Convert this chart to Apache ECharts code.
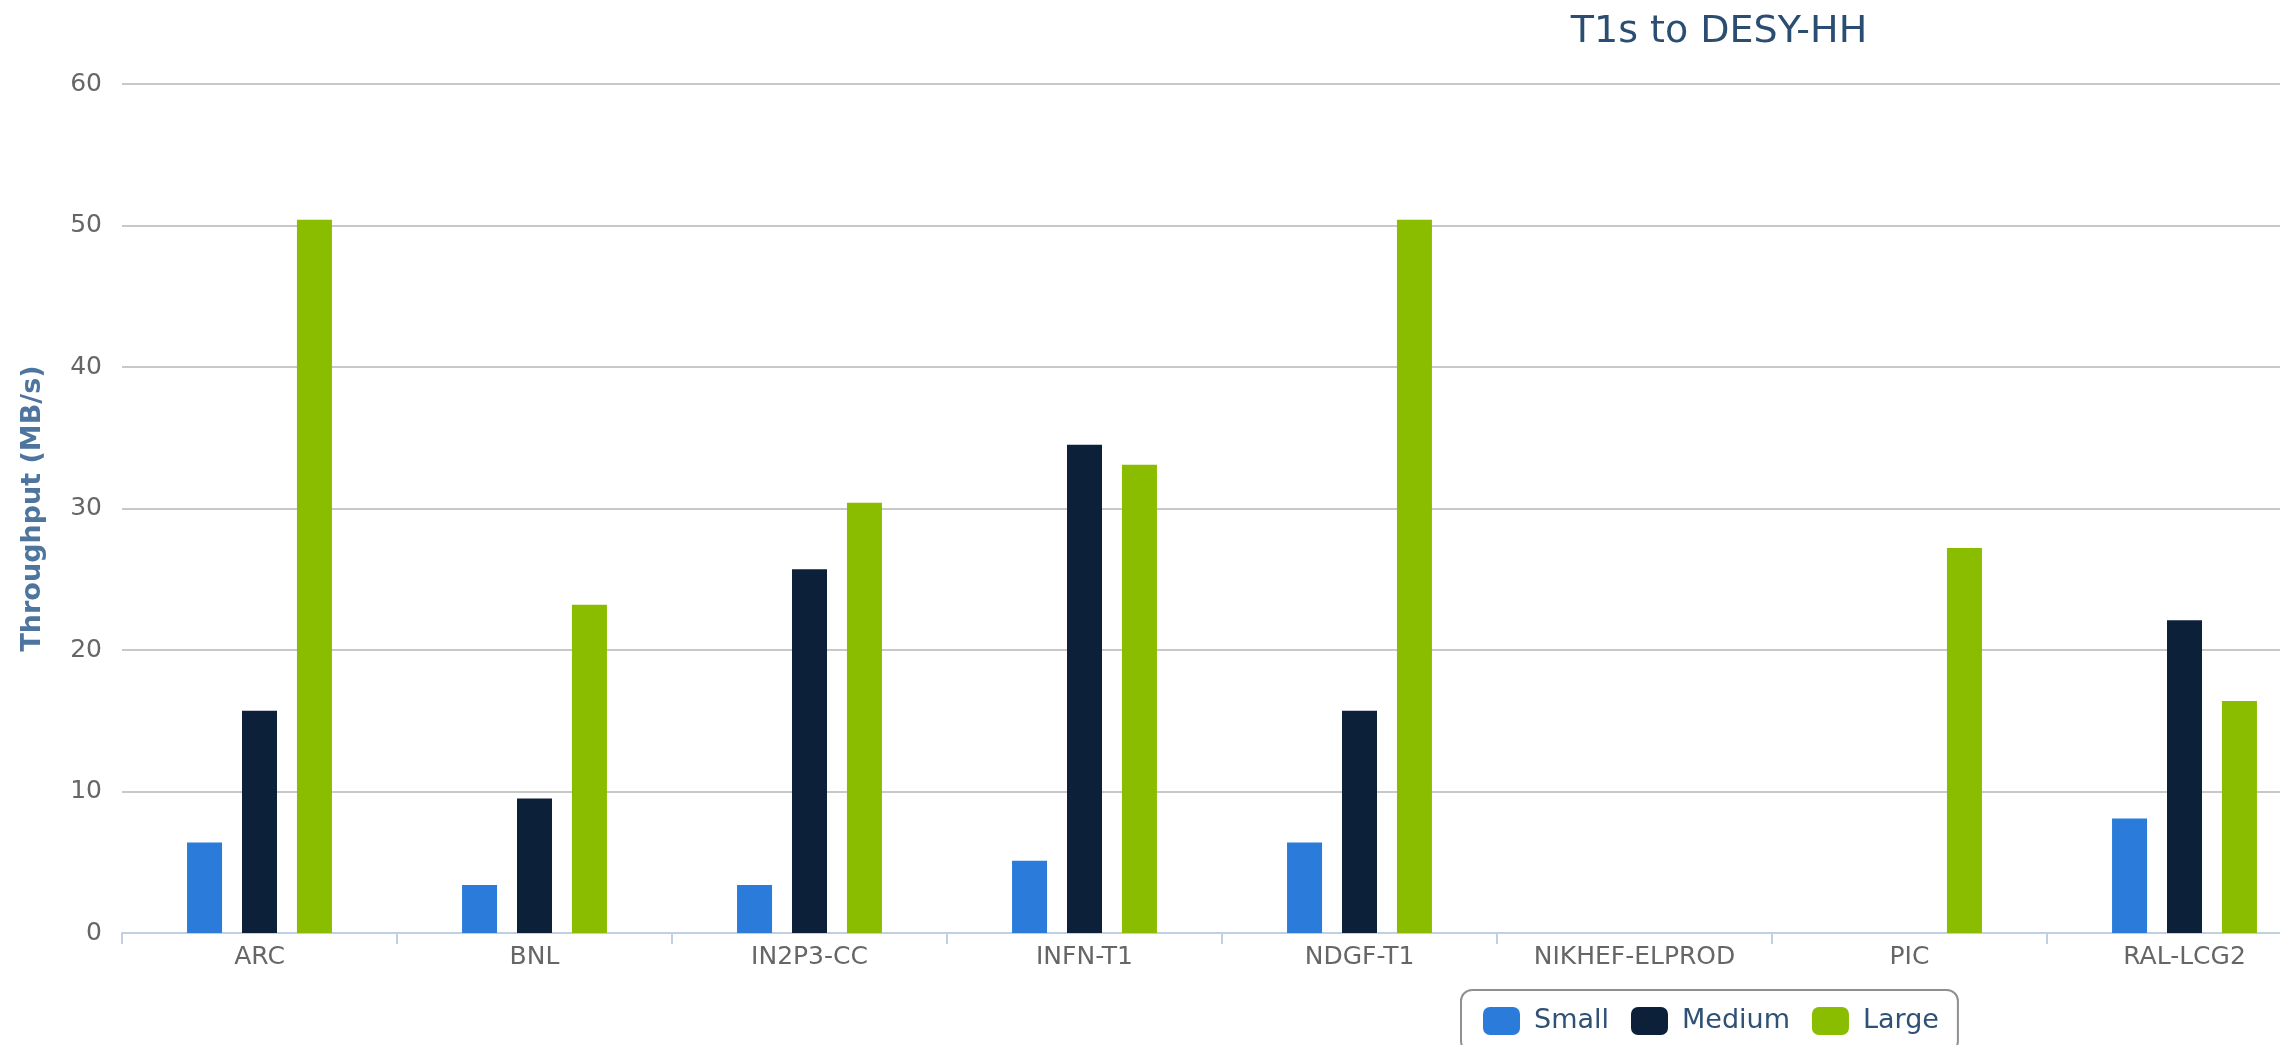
<!DOCTYPE html>
<html>
<head>
<meta charset="utf-8">
<title>T1s to DESY-HH</title>
<script src="https://cdn.jsdelivr.net/npm/echarts@6/dist/echarts.min.js"></script>
<style>
  html, body { margin: 0; padding: 0; background: #ffffff; }
  #chart { width: 2280px; height: 1045px; }
</style>
</head>
<body>
<div id="chart"></div>
<script>
// 数据 (MB/s)
var categories = ['ARC', 'BNL', 'IN2P3-CC', 'INFN-T1', 'NDGF-T1', 'NIKHEF-ELPROD', 'PIC', 'RAL-LCG2']
var smallValues = [6.4, 3.4, 3.4, 5.1, 6.4, null, null, 8.1]
var mediumValues = [15.7, 9.5, 25.7, 34.5, 15.7, null, null, 22.1]
var largeValues = [50.4, 23.2, 30.4, 33.1, 50.4, null, 27.2, 16.4]
var seriesNames = ['Small', 'Medium', 'Large']
var yTicks = [0, 10, 20, 30, 40, 50, 60]

var font = 'DejaVu Sans'
var myChart = echarts.init(document.getElementById('chart'))

var option = {
  backgroundColor: '#ffffff',
  animation: false,
  color: ['#2a7bda', '#0c2039', '#8abd00'],
  title: {
    text: 'T1s to DESY-HH',
    left: 1714,
    textAlign: 'center',
    top: 8,
    textStyle: { fontFamily: font, fontSize: 38, fontWeight: 'normal', color: '#2a4d71' }
  },
  legend: {
    data: seriesNames,
    left: 1461,
    top: 990,
    padding: [17, 19, 17, 22],
    itemWidth: 37,
    itemHeight: 28,
    itemGap: 22,
    icon: 'roundRect',
    borderColor: '#909090',
    borderWidth: 2,
    borderRadius: 11,
    backgroundColor: '#ffffff',
    textStyle: { fontFamily: font, fontSize: 27, color: '#2e5175', padding: [0, 0, 0, 9] }
  },
  grid: {
    left: 122,
    width: 2200, // 图表被裁切，右侧超出画面
    top: 84,
    height: 849,
    outerBoundsMode: 'none',
    containLabel: false
  },
  xAxis: {
    type: 'category',
    data: categories,
    axisLine: { lineStyle: { color: '#c0d0e0', width: 2 } },
    axisTick: { show: true, length: 11, lineStyle: { color: '#c0d0e0', width: 2 } },
    axisLabel: { fontFamily: font, fontSize: 25, color: '#666666', margin: 12, interval: 0 }
  },
  yAxis: {
    type: 'value',
    min: yTicks[0],
    max: yTicks[yTicks.length - 1],
    interval: 10,
    name: 'Throughput (MB/s)',
    nameLocation: 'middle',
    nameGap: 76,
    nameTextStyle: { fontFamily: font, fontSize: 27, fontWeight: 'bold', color: '#4d759e' },
    axisLine: { show: false },
    axisTick: { show: false },
    axisLabel: { fontFamily: font, fontSize: 25, color: '#666666', margin: 20 },
    splitLine: { lineStyle: { color: '#c8c8c8', width: 2 } }
  },
  series: [
    { name: seriesNames[0], type: 'bar', data: smallValues, barWidth: 35, barGap: '57%' },
    { name: seriesNames[1], type: 'bar', data: mediumValues, barWidth: 35, barGap: '57%' },
    { name: seriesNames[2], type: 'bar', data: largeValues, barWidth: 35, barGap: '57%' }
  ]
}

myChart.setOption(option)
</script>
</body>
</html>
